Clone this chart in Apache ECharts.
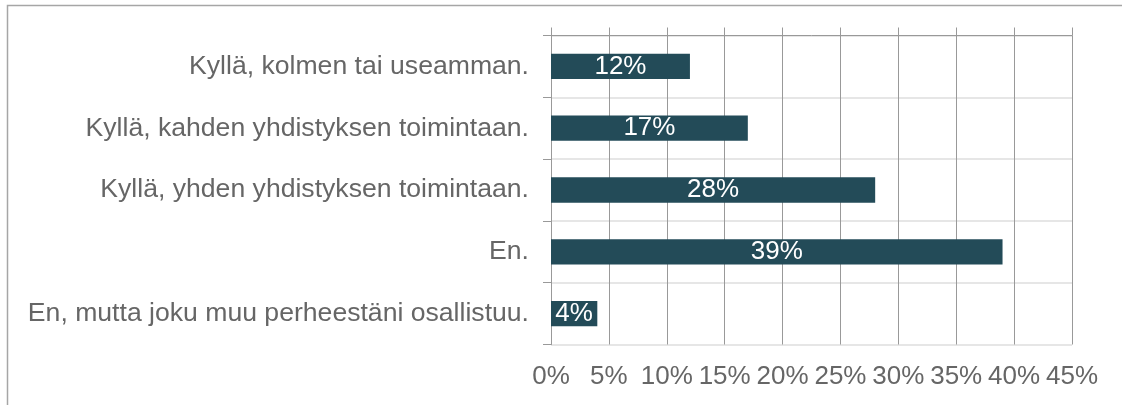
<!DOCTYPE html>
<html>
<head>
<meta charset="utf-8">
<script src="https://cdn.jsdelivr.net/npm/echarts@6/dist/echarts.min.js"></script>
<style>
html,body{margin:0;padding:0;background:#fff;}
#chart{width:1122px;height:405px;}
</style>
</head>
<body>
<div id="chart"></div>
<script>
var categories = [
  "Kyllä, kolmen tai useamman.",
  "Kyllä, kahden yhdistyksen toimintaan.",
  "Kyllä, yhden yhdistyksen toimintaan.",
  "En.",
  "En, mutta joku muu perheestäni osallistuu."
];
var values = [12, 17, 28, 39, 4];
var xMin = 0, xMax = 45, xStep = 5;

var FONT = '"Liberation Sans", Arial, sans-serif';
var chart = echarts.init(document.getElementById('chart'), null, {renderer: 'canvas'});
var option = {
  animation: false,
  backgroundColor: '#fff',
  graphic: [{
    type: 'rect',
    shape: {x: 7.5, y: 5.5, width: 1300, height: 600},
    style: {fill: 'none', stroke: '#a6a6a6', lineWidth: 1.5},
    silent: true, z: -10
  }],
  grid: {left: 551, right: 50, top: 35.5, bottom: 60.5, containLabel: false},
  xAxis: [{
    type: 'value', position: 'top', min: xMin, max: xMax, interval: xStep,
    axisLine: {show: true, lineStyle: {color: '#999', width: 1}},
    axisTick: {show: true, length: 8, lineStyle: {color: '#999', width: 1}},
    axisLabel: {show: false},
    splitLine: {show: true, lineStyle: {color: '#999', width: 1}}
  }, {
    type: 'value', position: 'bottom', min: xMin, max: xMax, interval: xStep,
    axisLine: {show: false}, axisTick: {show: false}, splitLine: {show: false},
    axisLabel: {show: true, color: '#666', fontSize: 26, fontFamily: FONT, margin: 19,
      formatter: function (v) { return v + '%'; }}
  }],
  yAxis: {
    type: 'category', data: categories, inverse: true,
    axisLine: {show: true, lineStyle: {color: '#999', width: 1}},
    axisTick: {show: true, length: 8, lineStyle: {color: '#999', width: 1}},
    axisLabel: {color: '#666', fontSize: 26.6, fontFamily: FONT, margin: 22},
    splitLine: {show: true, lineStyle: {color: '#e6e6e6', width: 2}}
  },
  series: [{
    type: 'bar', data: values, xAxisIndex: 0, barWidth: '41%',
    itemStyle: {color: '#234b58'},
    label: {show: true, position: 'inside', color: '#fff', fontSize: 26, fontFamily: FONT,
      formatter: function (p) { return p.value + '%'; }}
  }]
};
chart.setOption(option);
</script>
</body>
</html>
